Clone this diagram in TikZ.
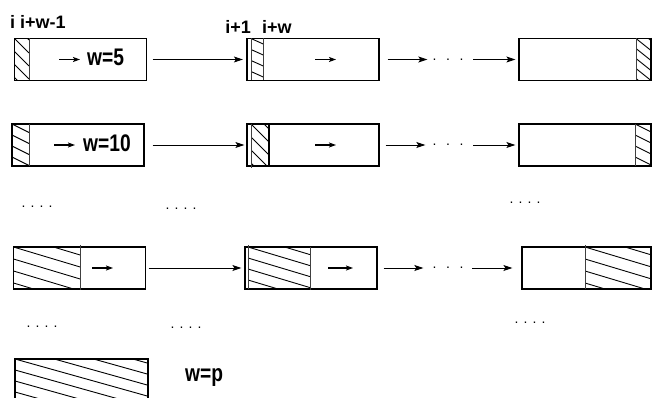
\documentclass[tikz,border=0pt]{standalone}
\usepackage{graphicx}
\usepackage{fontspec}
\setmainfont{Liberation Sans}
\usetikzlibrary{arrows.meta}
\newcommand{\hatchfill}[6]{%
  \begin{scope}
    \clip (#1,#2) rectangle (#3,#4);
    \foreach \k in {-20,...,20}
      \draw[hatchline] (#1,{#2+\k*#6}) -- (#3,{#2+\k*#6+#5*(#3-#1)});
  \end{scope}}
\newcommand{\threedots}{\makebox[31pt][s]{.\hfill.\hfill.}}
\newcommand{\fourdots}{\makebox[31pt][s]{.\hfill.\hfill.\hfill.}}
\tikzset{
  box/.style={draw, line width=1.2pt, inner sep=0pt, minimum width=132pt, minimum height=42pt},
  hatchline/.style={line width=0.9pt},
  divider/.style={line width=0.9pt, black!75},
  conn/.style={-{Stealth[length=9pt,width=6pt,inset=2pt]}, line width=0.9pt},
  inarrow/.style={-{Stealth[length=7pt,width=5pt,inset=1.5pt]}, line width=1.1pt},
  wlab/.style={font=\bfseries\fontsize{24}{24}\selectfont, inner sep=0pt},
  ilab/.style={font=\bfseries\fontsize{18}{18}\selectfont, inner sep=0pt},
  dots/.style={font=\fontsize{14}{14}\selectfont, inner sep=0pt},
}
\begin{document}
\begin{tikzpicture}[x=1pt, y=-1pt]
\clip (0,0) rectangle (652,398);
\fill[white] (0,0) rectangle (652,398);

% ---------- hatching ----------
\hatchfill{14.5}{38.5}{29}{80.5}{1}{13}
\hatchfill{251}{38.5}{263}{80.5}{0.45}{11}
\hatchfill{636}{38.5}{651}{80.5}{0.8}{10}
\hatchfill{12}{124}{29}{166}{0.5}{11}
\hatchfill{251}{124}{269}{166}{1}{13}
\hatchfill{635}{124}{651}{166}{0.5}{11}
\hatchfill{13.5}{247}{80}{289}{0.3}{12}
\hatchfill{248}{247}{310}{289}{0.3}{11}
\hatchfill{585}{247}{651}{289}{0.3}{12}
\hatchfill{15}{359}{148}{401}{0.28}{11}

% ---------- boxes ----------
\node[box, minimum width=132pt] (b11) at (80.5,59.5) {};
\node[box] (b12) at (313,59.5) {};
\node[box] (b13) at (585,59.5) {};
\node[box] (b21) at (78,145) {};
\node[box] (b22) at (313,145) {};
\node[box] (b23) at (585,145) {};
\node[box] (b31) at (79.5,268) {};
\node[box] (b32) at (311,268) {};
\node[box, minimum width=129pt] (b33) at (586.5,268) {};
\node[box, minimum width=133pt] (b41) at (81.5,380) {};

% ---------- dividers ----------
\draw[divider] (29,38.5) -- (29,80.5);
\draw[divider] (251,38.5) -- (251,80.5);
\draw[divider] (263,38.5) -- (263,80.5);
\draw[divider] (636,38.5) -- (636,80.5);
\draw[line width=2pt] (650.5,38) -- (650.5,81);
\draw[divider] (29,124) -- (29,166);
\draw[divider] (251,124) -- (251,168);
\draw[line width=1.6pt] (269,124) -- (269,166);
\draw[divider] (635,124) -- (635,166);
\draw[divider] (80,245) -- (80,290);
\draw[divider] (248,245) -- (248,289);
\draw[divider] (310,247) -- (310,290);
\draw[divider] (585,245) -- (585,289);

% ---------- inner arrows ----------
\draw[inarrow] (59,59.5) -- (80,59.5);
\draw[inarrow] (315,59.5) -- (336,59.5);
\draw[inarrow] (54,145) -- (75,145);
\draw[inarrow] (315,145) -- (336,145);
\draw[inarrow] (92,268) -- (113,268);
\draw[inarrow] (328,268) -- (353,268);

% ---------- labels ----------
\node[wlab, anchor=base west] (l5) at (87,66) {\scalebox{0.8}[1]{w=5}};
\node[wlab, anchor=base west] (l10) at (83,152) {\scalebox{0.8}[1]{w=10}};
\node[wlab, anchor=base west] (lp) at (185,381) {\scalebox{0.8}[1]{w=p}};
\node[ilab, anchor=base west] (li) at (10,29) {i i+w-1};
\node[ilab, anchor=base east] (li1) at (251,34) {i+1};
\node[ilab, anchor=base west] (liw) at (262,34) {i+w};

% ---------- connector dots ----------
\node[dots] (d1) at (448,59.5) {\threedots};
\node[dots] (d2) at (448,145) {\threedots};
\node[dots] (d3) at (448,268) {\threedots};

% ---------- connectors ----------
\draw[conn, shorten <=5.5pt, shorten >=3.5pt] (b11) -- (b12);
\draw[conn, shorten <=8pt, shorten >=5pt] (b12) -- (d1);
\draw[conn, shorten <=9.5pt, shorten >=3pt] (d1) -- (b13);
\draw[conn, shorten <=8pt, shorten >=2pt] (b21) -- (b22);
\draw[conn, shorten <=6pt, shorten >=7pt] (b22) -- (d2);
\draw[conn, shorten <=9.5pt, shorten >=3pt] (d2) -- (b23);
\draw[conn, shorten <=2.5pt, shorten >=3pt] (b31) -- (b32);
\draw[conn, shorten <=6pt, shorten >=9pt] (b32) -- (d3);
\draw[conn, shorten <=8.5pt, shorten >=9pt] (d3) -- (b33);

% ---------- gap dots ----------
\node[dots] (g1) at (37,207) {\fourdots};
\node[dots] (g2) at (181,209) {\fourdots};
\node[dots] (g3) at (525,203) {\fourdots};
\node[dots] (g4) at (42,327) {\fourdots};
\node[dots] (g5) at (186,328) {\fourdots};
\node[dots] (g6) at (530,323) {\fourdots};
\end{tikzpicture}
\end{document}
